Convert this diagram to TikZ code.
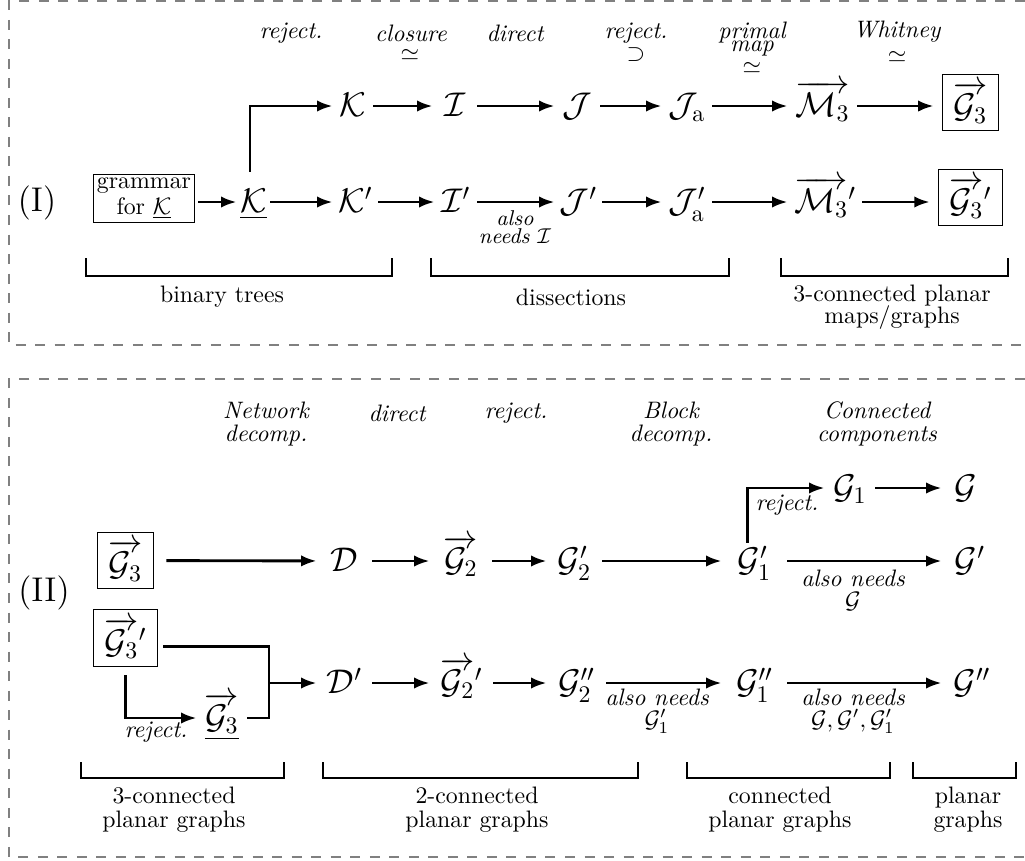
\documentclass[tikz,border=0pt]{standalone}
\usepackage{amsmath,amssymb}
\usetikzlibrary{arrows.meta}
\begin{document}
\begin{tikzpicture}[x=0.42pt,y=-0.42pt,
  m/.style={font=\Large, inner sep=0pt, text height=12pt, text depth=3pt},
  mw/.style={m, minimum width=#1*0.42pt},
  bx/.style={draw, line width=0.45pt, inner xsep=4.5pt, inner ysep=3.2pt, font=\Large, outer sep=0pt},
  arr/.style={line width=1.2pt, -{Latex[length=6.5pt,width=4.8pt]}},
  ln/.style={line width=1.2pt},
  br/.style={line width=0.85pt},
  lab/.style={font=\itshape},
  frame/.style={draw=gray, line width=0.6pt, dash pattern=on 4.2pt off 4pt}]
\useasboundingbox (0,0) rectangle (1025,860);

% ---------- Part I ----------
\draw[frame] (1025,1) -- (9,1) -- (9,345) -- (1025,345);
\node[font=\Large] (r1) at (37,203) {(I)};

\node[draw, line width=0.45pt, align=center, inner sep=1.5pt] (gram) at (144,198.5) {grammar\\[-1pt]for $\underline{\mathcal{K}}$};
\node[mw=33] (Ku) at (253.5,202) {$\underline{\mathcal{K}}$};
\node[mw=40] (K) at (353,106) {$\mathcal{K}$};
\node[mw=44] (I) at (455,106) {$\mathcal{I}$};
\node[mw=45] (J) at (577.5,106) {$\mathcal{J}$};
\node[mw=50] (Ja) at (687,106) {$\mathcal{J}_{\mathrm{a}}$};
\node[mw=69] (M) at (822.5,106) {$\overrightarrow{\mathcal{M}_3}$};
\node[bx] (G3a) at (970.5,102.5) {$\overrightarrow{\mathcal{G}_3}$};

\node[mw=45] (Kp) at (355.5,202) {$\mathcal{K}'$};
\node[mw=42] (Ip) at (456,202) {$\mathcal{I}'$};
\node[mw=47] (Jp) at (578.5,202) {$\mathcal{J}'$};
\node[mw=50] (Jap) at (687,202) {$\mathcal{J}'_{\mathrm{a}}$};
\node[mw=74] (Mp) at (825,202) {$\overrightarrow{\mathcal{M}_3}'$};
\node[bx] (G3b) at (970.5,197.5) {$\overrightarrow{\mathcal{G}_3}'$};

\draw[arr, shorten <=1.3pt] (gram.east |- Ku) -- (Ku);
\draw[arr] (Ku) -- (Kp);
\draw[arr] (Kp) -- (Ip);
\draw[arr] (Ip) -- (Jp);
\draw[arr] (Jp) -- (Jap);
\draw[arr] (Jap) -- (Mp);
\draw[arr, shorten >=3.8pt] (Mp) -- (Mp -| G3b.west);
\draw[arr] (K) -- (I);
\draw[arr] (I) -- (J);
\draw[arr] (J) -- (Ja);
\draw[arr] (Ja) -- (M);
\draw[arr, shorten >=3.8pt] (M) -- (M -| G3a.west);
\draw[arr] ([yshift=5pt,xshift=-1.5pt]Ku.north) |- (K);

\node[lab] (l1) at (291,33) {reject.};
\node[lab] (l2) at (411,33) {closure};
\node (l2s) at (410,55) {$\simeq$};
\node[lab] (l3) at (515,33) {direct};
\node[lab] (l4) at (636,33) {reject.};
\node (l4s) at (636,55) {$\supset$};
\node[lab, anchor=base] (l5) at (752,38.5) {primal};
\node[lab, anchor=base] (l5b) at (752,51) {map};
\node (l5s) at (752,68) {$\simeq$};
\node[lab] (l6) at (897,32) {Whitney};
\node (l6s) at (897,57) {$\simeq$};

\node[font=\small\itshape, align=center] (ln1) at (515,227) {also\\[-3.4pt]needs $\mathcal{I}$};

\draw[br] (86,258) -- (86,276) -- (392,276) -- (392,258);
\draw[br] (431,258) -- (431,276) -- (729,276) -- (729,258);
\draw[br] (781,258) -- (781,276) -- (1008,276) -- (1008,258);
\node (b1) at (222,297) {binary trees};
\node (b2) at (571,297) {dissections};
\node[align=center] (b3) at (892,307) {3-connected planar\\[-3pt]maps/graphs};

% ---------- Part II ----------
\draw[frame] (1025,379) -- (9,379) -- (9,857) -- (1025,857);
\node[font=\Large] (r2) at (44,593) {(II)};

\node[bx] (H3) at (125.5,560.5) {$\overrightarrow{\mathcal{G}_3}$};
\node[bx] (H3p) at (125.5,638) {$\overrightarrow{\mathcal{G}_3}'$};
\node[mw=50] (H3u) at (222,718) {$\underline{\overrightarrow{\mathcal{G}_3}}$};
\coordinate (jn) at (269,683);

\node[mw=55] (D) at (344.5,561) {$\mathcal{D}$};
\node[mw=62] (G2) at (461,561) {$\overrightarrow{\mathcal{G}_2}$};
\node[mw=55] (G2p) at (574.5,561) {$\mathcal{G}'_2$};
\node[mw=65] (G1p) at (754.5,561) {$\mathcal{G}'_1$};
\node[mw=56] (Gp) at (970,561) {$\mathcal{G}'$};
\node[mw=50] (G1) at (850,488) {$\mathcal{G}_1$};
\node[mw=48] (G) at (966,488) {$\mathcal{G}$};

\node[mw=55] (Dp) at (344.5,683) {$\mathcal{D}'$};
\node[mw=63] (G2v) at (461.5,683) {$\overrightarrow{\mathcal{G}_2}'$};
\node[mw=59] (G2pp) at (576.5,683) {$\mathcal{G}''_2$};
\node[mw=65] (G1pp) at (754.5,683) {$\mathcal{G}''_1$};
\node[mw=60] (Gpp) at (972,683) {$\mathcal{G}''$};

\draw[arr, shorten <=5.5pt] (H3) -- (D);
\draw[arr] (D) -- (G2);
\draw[arr] (G2) -- (G2p);
\draw[arr] (G2p) -- (G1p);
\draw[arr] (G1p) -- (Gp);
\draw[arr] (G1) -- (G);
\draw[arr] ([xshift=-3pt]G1p.north) |- (G1);

\draw[ln] ([xshift=2.5pt,yshift=-3.4pt]H3p.east) -| (jn) |- (H3u);
\draw[arr] (jn) -- (Dp);
\draw[arr] ([yshift=-3.8pt]H3p.south) |- (H3u);
\draw[arr] (Dp) -- (G2v);
\draw[arr] (G2v) -- (G2pp);
\draw[arr] (G2pp) -- (G1pp);
\draw[arr] (G1pp) -- (Gpp);

\node[lab, align=center] (t1) at (266,424) {Network\\[-2.3pt]decomp.};
\node[lab] (t2) at (397,413) {direct};
\node[lab] (t3) at (516,413) {reject.};
\node[lab, align=center] (t4) at (671,424) {Block\\[-2.3pt]decomp.};
\node[lab, align=center] (t5) at (877,424) {Connected\\[-2.3pt]components};

\node[lab] (rj2) at (787,505) {reject.};
\node[lab] (rj3) at (156,732) {reject.};
\node[lab, align=center] (an1) at (853,590) {also needs\\[-2.8pt]$\mathcal{G}$};
\node[lab, align=center] (an2) at (657,711) {also needs\\[-2.8pt]$\mathcal{G}'_1$};
\node[lab, align=center] (an3) at (853,711) {also needs\\[-2.8pt]$\mathcal{G},\mathcal{G}',\mathcal{G}'_1$};

\draw[br] (81,762) -- (81,778) -- (284,778) -- (284,762);
\draw[br] (323,762) -- (323,778) -- (638,778) -- (638,762);
\draw[br] (687,762) -- (687,778) -- (890,778) -- (890,762);
\draw[br] (913,762) -- (913,778) -- (1016,778) -- (1016,762);
\node[align=center] (c1) at (174,810) {3-connected\\[-2pt]planar graphs};
\node[align=center] (c2) at (477,810) {2-connected\\[-2pt]planar graphs};
\node[align=center] (c3) at (780,810) {connected\\[-2pt]planar graphs};
\node[align=center] (c4) at (968,810) {planar\\[-2pt]graphs};
\end{tikzpicture}
\end{document}
